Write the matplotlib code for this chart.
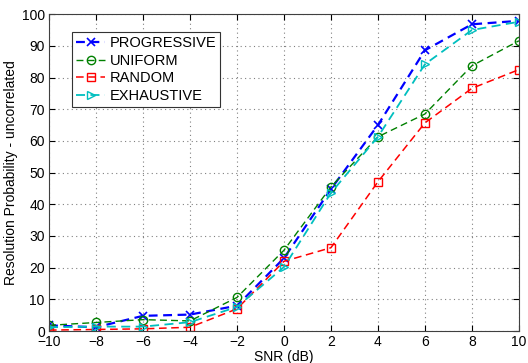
import matplotlib
matplotlib.use("Agg")
import matplotlib.pyplot as plt

plt.rcParams['font.family'] = ['Liberation Sans', 'DejaVu Sans']

snr = [-10, -8, -6, -4, -2, 0, 2, 4, 6, 8, 10]
progressive = [1.8, 1.2, 4.8, 5.2, 8.0, 23.0, 44.8, 65.0, 88.6, 96.8, 97.9]
uniform = [1.8, 2.7, 3.6, 3.2, 10.6, 25.5, 45.5, 61.3, 68.5, 83.7, 91.6]
random_ = [0.3, 0.5, 0.7, 1.2, 7.0, 22.0, 26.3, 47.1, 65.7, 76.6, 82.5]
exhaustive = [1.2, 1.4, 1.4, 2.8, 7.6, 20.2, 43.6, 61.3, 84.2, 95.0, 97.6]

xticks = [-10, -8, -6, -4, -2, 0, 2, 4, 6, 8, 10]
yticks = [0, 10, 20, 30, 40, 50, 60, 70, 80, 90, 100]

fig = plt.figure(figsize=(5.28, 3.63), dpi=100)
ax = fig.add_axes([0.0928, 0.088, 0.890, 0.873])

ax.plot(snr, progressive, color=(0, 0, 1), ls=(0, (4, 2.5)), lw=1.6,
        marker='x', ms=6, mew=1.2, label='PROGRESSIVE')
ax.plot(snr, uniform, color=(0, 0.5, 0), ls=(0, (5, 3)), lw=1.0,
        marker='o', ms=6, mfc='none', mew=1.0, label='UNIFORM')
ax.plot(snr, random_, color=(1, 0, 0), ls=(0, (5, 3)), lw=1.1,
        marker='s', ms=5.5, mfc='none', mew=1.0, label='RANDOM')
ax.plot(snr, exhaustive, color=(0, 0.75, 0.75), ls=(0, (5, 3)), lw=1.3,
        marker='>', ms=6, mfc='none', mew=1.0, label='EXHAUSTIVE')

ax.set_xlim(-10, 10)
ax.set_ylim(0, 100)
ax.set_xticks(xticks)
ax.set_yticks(yticks)
ax.tick_params(direction='in', labelsize=10, length=4, top=True, right=True)
ax.tick_params(axis='x', pad=2.5)
ax.tick_params(axis='y', pad=3)
ax.grid(True, ls=(0, (1, 3)), color='#808080', lw=0.8)
for s in ax.spines.values():
    s.set_color('#404040')

ax.set_xlabel('SNR (dB)', fontsize=10, labelpad=1)
ax.set_ylabel('Resolution Probability - uncorrelated', fontsize=10, labelpad=3)

leg = ax.legend(loc='upper left', bbox_to_anchor=(0.048, 0.945), fontsize=10.5,
                fancybox=False, edgecolor='#333333', framealpha=1,
                handlelength=2.0, handletextpad=0.3, borderpad=0.3,
                labelspacing=0.25, borderaxespad=0)
leg.get_frame().set_linewidth(0.8)

fig.savefig('out.png', dpi=100)
